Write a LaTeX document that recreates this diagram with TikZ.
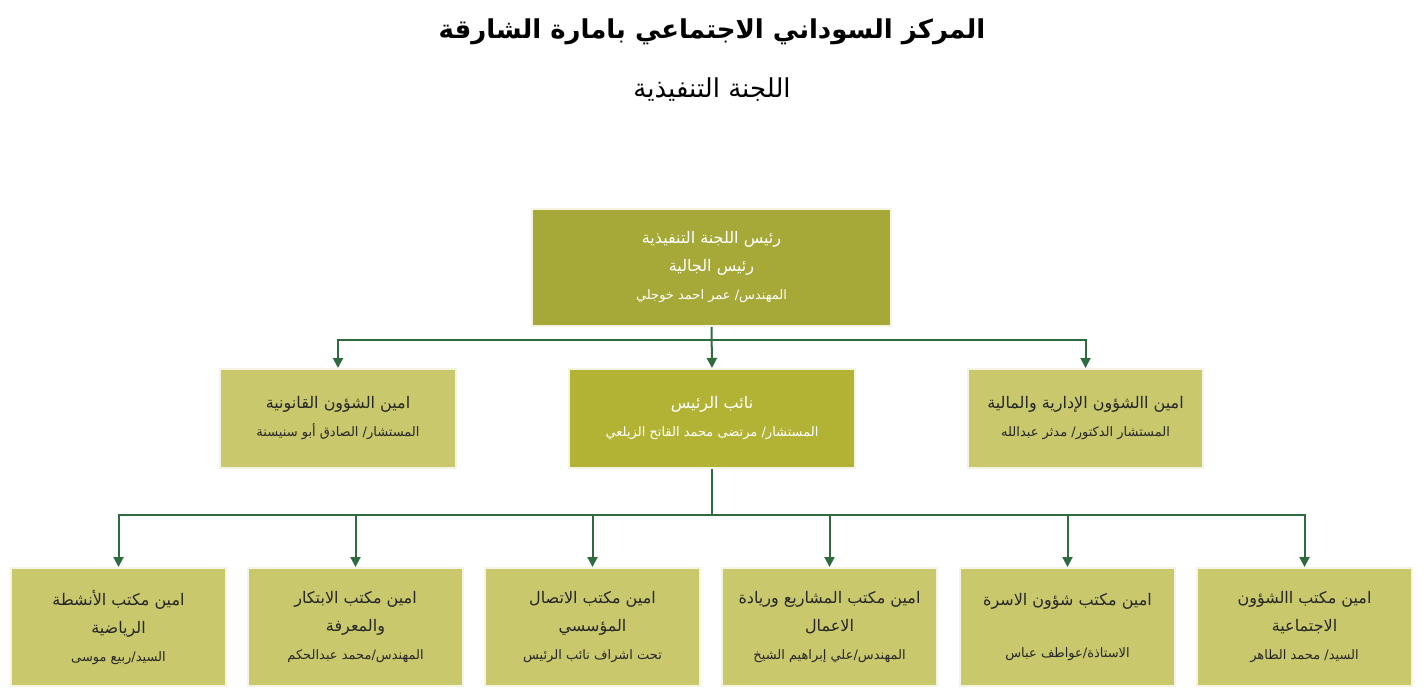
\documentclass[tikz,border=0pt]{standalone}
\usepackage{fontspec}
\newfontfamily\arabicfont[Script=Arabic]{DejaVu Sans}
\TeXXeTstate=1
\usetikzlibrary{positioning, arrows.meta}
\definecolor{olivedark}{HTML}{A6A838}
\definecolor{olivemid}{HTML}{B2B335}
\definecolor{olivelight}{HTML}{C9C86C}
\definecolor{linkgreen}{HTML}{2E6B3E}
\newcommand{\ar}[1]{\arabicfont\beginR #1\endR}
\tikzset{
  box/.style={draw=white!80!olivelight, line width=1pt, fill=olivelight, text=black!85, align=center, font=\arabicfont\fontsize{8}{14}\selectfont},
  link/.style={draw=linkgreen, line width=1pt, -{Triangle[length=5pt,width=5pt]}},
  small/.style={font=\arabicfont\fontsize{6.5}{10}\selectfont}
}
\begin{document}
\begin{tikzpicture}[x=0.5pt,y=-0.5pt]
\useasboundingbox (0,0) rectangle (1424,690);
% titles
\node (title) at (712,32) {\arabicfont\bfseries\fontsize{13}{15}\selectfont\beginR المركز السوداني الاجتماعي بامارة الشارقة\endR};
\node (sub) at (712,90) {\arabicfont\fontsize{13}{15}\selectfont\beginR اللجنة التنفيذية\endR};
% head
\node[box, fill=olivedark, text=white, minimum width=179.5pt, minimum height=58.5pt] (head) at (711.5,267.5) {\ar{رئيس اللجنة التنفيذية}\\ \ar{رئيس الجالية}\\ {\fontsize{6.5}{10}\selectfont\ar{المهندس/ عمر احمد خوجلي}}};
% second row
\node[box, minimum width=118pt, minimum height=49.5pt] (legal) at (338,418.5) {\ar{امين الشؤون القانونية}\\ {\fontsize{6.5}{10}\selectfont\ar{المستشار/ الصادق أبو سنيسنة}}};
\node[box, fill=olivemid, text=white, minimum width=143pt, minimum height=49.5pt] (deputy) at (712,418.5) {\ar{نائب الرئيس}\\ {\fontsize{6.5}{10}\selectfont\ar{المستشار/ مرتضى محمد القاتح الزيلعي}}};
\node[box, minimum width=117.5pt, minimum height=49.5pt] (admin) at (1085.5,418.5) {\ar{امين االشؤون الإدارية والمالية}\\ {\fontsize{6.5}{10}\selectfont\ar{المستشار الدكتور/ مدثر عبدالله}}};
% third row
\foreach \n/\x/\a/\b/\c in {
  sport/118.5/{امين مكتب الأنشطة}/{الرياضية}/{السيد/ربيع موسى},
  innov/355.5/{امين مكتب الابتكار}/{والمعرفة}/{المهندس/محمد عبدالحكم},
  comm/592.5/{امين مكتب الاتصال}/{المؤسسي}/{تحت اشراف نائب  الرئيس},
  proj/829.5/{امين مكتب المشاريع  وريادة}/{الاعمال}/{المهندس/علي إبراهيم الشيخ},
  social/1304.5/{امين مكتب االشؤون}/{الاجتماعية}/{السيد/ محمد الطاهر}}
  \node[box, minimum width=107.5pt, minimum height=59pt] (\n) at (\x,627) {\ar{\a}\\ \ar{\b}\\ {\fontsize{6.5}{10}\selectfont\ar{\c}}};
\node[box, minimum width=107.5pt, minimum height=59pt] (family) at (1067.5,627) {\ar{امين مكتب شؤون الاسرة}\\[12pt] {\fontsize{6.5}{10}\selectfont\ar{الاستاذة/عواطف عباس}}};
% connectors
\coordinate (hbus) at (712,340);
\draw[link] (head.south) -- (deputy.north);
\draw[link] (hbus) -| (legal.north);
\draw[link] (hbus) -| (admin.north);
\coordinate (lbus) at (712,515);
\draw[draw=linkgreen, line width=1pt] (deputy.south) -- (lbus);
\foreach \n in {sport,innov,comm,proj,family,social}
  \draw[link] (lbus) -| (\n.north);
\end{tikzpicture}
\end{document}
